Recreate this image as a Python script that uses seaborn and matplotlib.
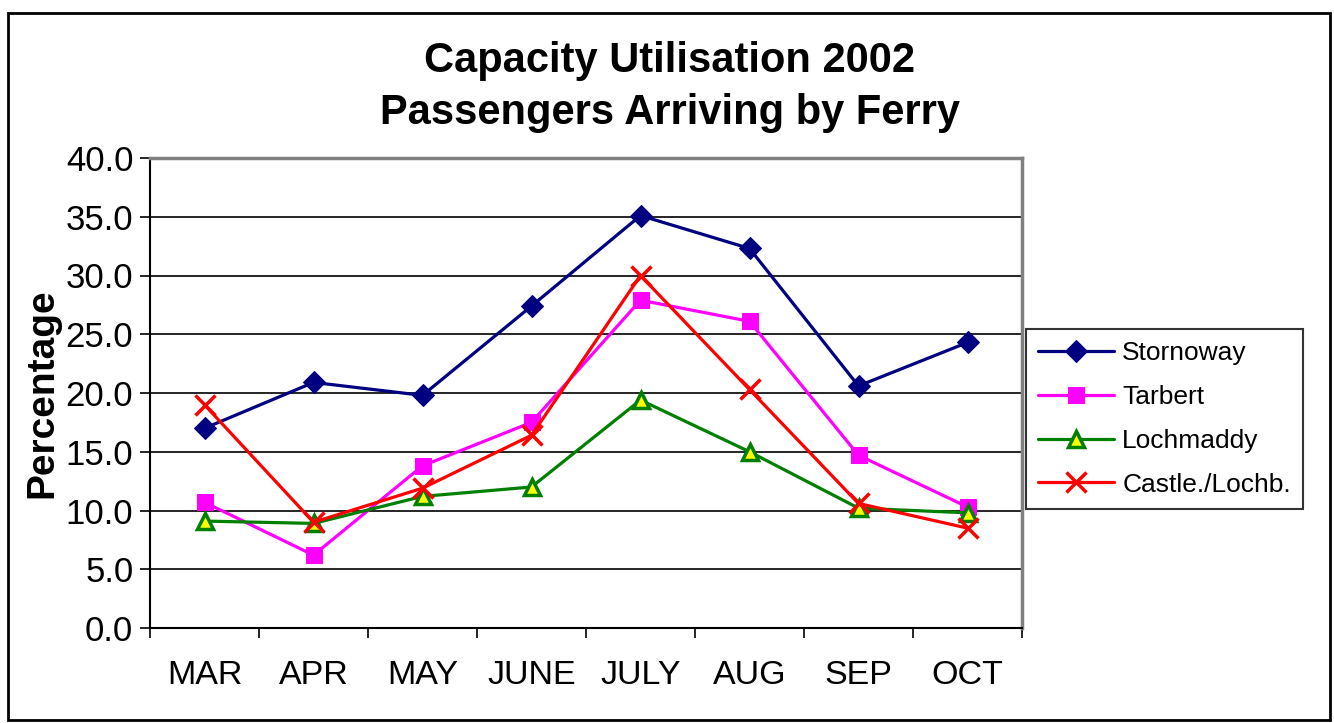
import numpy as np
import pandas as pd
import seaborn as sns
import matplotlib.pyplot as plt
from matplotlib.patches import Rectangle

sns.set_style("white")
plt.rcParams["font.family"] = ["Liberation Sans", "DejaVu Sans"]
plt.rcParams["text.color"] = "black"
plt.rcParams["axes.labelcolor"] = "black"
plt.rcParams["xtick.color"] = "black"
plt.rcParams["ytick.color"] = "black"

# Data
months = ["MAR", "APR", "MAY", "JUNE", "JULY", "AUG", "SEP", "OCT"]
stornoway = [17.0, 20.9, 19.8, 27.4, 35.1, 32.3, 20.6, 24.3]
tarbert = [10.7, 6.2, 13.8, 17.5, 27.9, 26.1, 14.7, 10.3]
lochmaddy = [9.1, 8.9, 11.2, 12.0, 19.4, 15.0, 10.2, 9.8]
castle = [19.0, 9.0, 11.9, 16.4, 30.0, 20.3, 10.6, 8.5]

series = {
    "Stornoway": stornoway,
    "Tarbert": tarbert,
    "Lochmaddy": lochmaddy,
    "Castle./Lochb.": castle,
}
df = pd.DataFrame(
    [(i, m, name, v) for name, vals in series.items() for i, (m, v) in enumerate(zip(months, vals))],
    columns=["pos", "month", "port", "pct"],
)

styles = {
    "Stornoway": dict(color="#000080", marker="D", markersize=11, markerfacecolor="#000080", markeredgecolor="#000080"),
    "Tarbert": dict(color="#FF00FF", marker="s", markersize=12, markerfacecolor="#FF00FF", markeredgecolor="#FF00FF"),
    "Lochmaddy": dict(color="#008000", marker="^", markersize=12, markerfacecolor="#FFFF00", markeredgecolor="#008000", markeredgewidth=2.5),
    "Castle./Lochb.": dict(color="#FF0000", marker="x", markersize=14, markeredgewidth=2.5, markeredgecolor="#FF0000"),
}

fig = plt.figure(figsize=(13.34, 7.23), dpi=100)
ax = fig.add_axes([150 / 1334, 1 - 628 / 723, 872 / 1334, 470 / 723])

for name in series:
    sub = df[df["port"] == name]
    sns.lineplot(data=sub, x="pos", y="pct", ax=ax, label=name, linewidth=2.3, **styles[name])

ax.set_xlim(-0.5, 7.5)
ax.set_ylim(0, 40)
ax.set_yticks(np.arange(0, 40.1, 5))
ax.set_yticklabels([f"{v:.1f}" for v in np.arange(0, 40.1, 5)], fontsize=25)
ax.set_xticks(np.arange(-0.5, 7.6, 1))
ax.set_xticklabels([])
ax.set_xticks(np.arange(8), minor=True)
ax.set_xticklabels(months, minor=True, fontsize=24.5)
ax.tick_params(axis="x", which="minor", length=0, pad=23)
ax.tick_params(axis="x", which="major", direction="out", length=7, width=1.2, color="black", bottom=True)
ax.tick_params(axis="y", direction="out", length=7, width=1.2, color="black", left=True, pad=5)
ax.grid(axis="y", color="black", linewidth=1.2)
ax.set_axisbelow(True)
ax.set_xlabel("")
ax.set_ylabel("Percentage", fontsize=28, fontweight="bold", labelpad=4)

for side in ["left", "bottom"]:
    ax.spines[side].set_color("black")
    ax.spines[side].set_linewidth(1.5)
for side in ["top", "right"]:
    ax.spines[side].set_visible(True)
    ax.spines[side].set_color("#808080")
    ax.spines[side].set_linewidth(2.5)

fig.text(670 / 1334, 1 - 61 / 723, "Capacity Utilisation 2002", ha="center", va="center",
         fontsize=30, fontweight="bold")
fig.text(670 / 1334, 1 - 113 / 723, "Passengers Arriving by Ferry", ha="center", va="center",
         fontsize=30, fontweight="bold")

leg = ax.legend(loc="center left", bbox_to_anchor=(1026 / 1334, 1 - 419 / 723),
                bbox_transform=fig.transFigure, fontsize=19, frameon=True, fancybox=False,
                edgecolor="black", borderpad=0.45, labelspacing=0.75, handlelength=2.9,
                handletextpad=0.3, borderaxespad=0)
leg.get_frame().set_linewidth(1.5)

fig.add_artist(Rectangle((8 / 1334, 3 / 723), 1322 / 1334, 707 / 723, transform=fig.transFigure,
                         fill=False, edgecolor="black", linewidth=2))

fig.savefig("out.png", dpi=100)
